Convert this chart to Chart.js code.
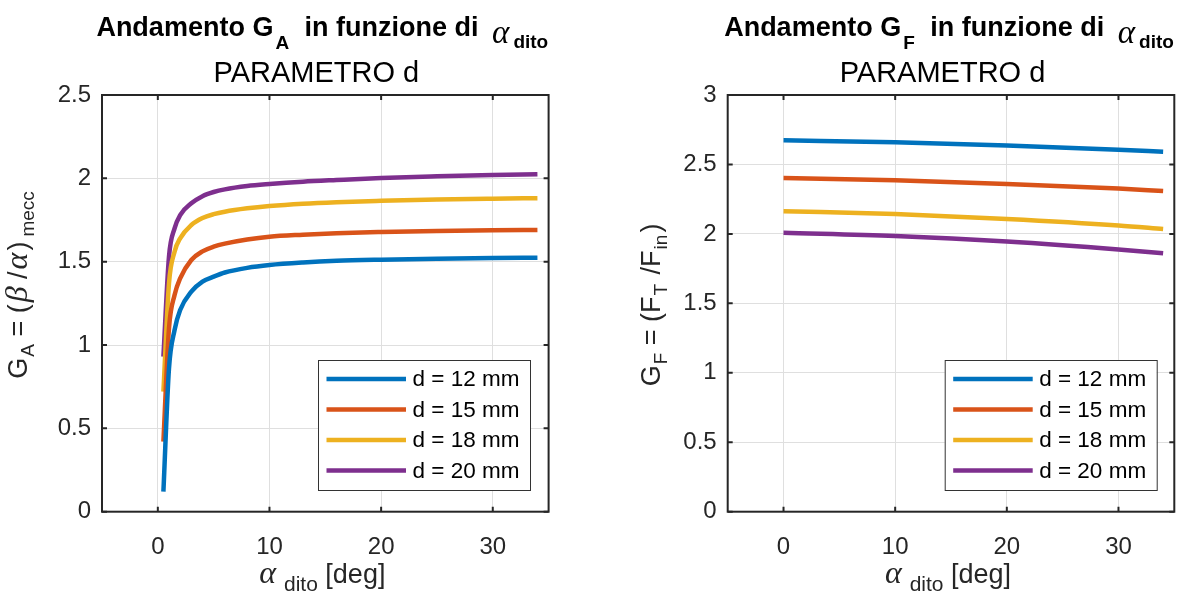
<!DOCTYPE html>
<html>
<head>
<meta charset="utf-8">
<script src="https://cdn.jsdelivr.net/npm/chart.js@4"></script>
<style>
  html, body { margin: 0; padding: 0; background: #ffffff; }
  #wrap { position: relative; width: 1184px; height: 597px; overflow: hidden; }
  .panel { position: absolute; top: 0; width: 592px; height: 597px; }
</style>
</head>
<body>
<div id="wrap">
  <div class="panel" style="left:0"><canvas id="cGA" width="592" height="597"></canvas></div>
  <div class="panel" style="left:592px"><canvas id="cGF" width="592" height="597"></canvas></div>
</div>
<script>
// ---- data -------------------------------------------------------------
const seriesLabels = ['d = 12 mm', 'd = 15 mm', 'd = 18 mm', 'd = 20 mm'];
const seriesColors = ['#0072BD', '#D95319', '#EDB120', '#7E2F8E'];

// G_A = (beta/alpha)_mecc vs alpha_dito [deg]
const alphaGA = [0.5, 1, 1.5, 2, 3, 4, 5, 6, 8, 10, 13, 16, 20, 25, 30, 34];
const gaD12 = [0.12, 0.86, 1.09, 1.21, 1.32, 1.38, 1.41, 1.435, 1.463, 1.48, 1.495, 1.505, 1.512, 1.518, 1.522, 1.524];
const gaD15 = [0.42, 1.10, 1.30, 1.40, 1.51, 1.562, 1.59, 1.608, 1.633, 1.65, 1.662, 1.671, 1.678, 1.684, 1.688, 1.690];
const gaD18 = [0.72, 1.37, 1.56, 1.64, 1.72, 1.762, 1.785, 1.80, 1.82, 1.834, 1.848, 1.857, 1.865, 1.873, 1.878, 1.881];
const gaD20 = [0.93, 1.53, 1.70, 1.78, 1.85, 1.893, 1.918, 1.934, 1.954, 1.966, 1.98, 1.99, 2.002, 2.012, 2.02, 2.025];

// G_F = F_T / F_in vs alpha_dito [deg]
const alphaGF = [0, 10, 20, 30, 34];
const gfD12 = [2.674, 2.660, 2.636, 2.606, 2.592];
const gfD15 = [2.402, 2.387, 2.360, 2.326, 2.309];
const gfD18 = [2.163, 2.143, 2.108, 2.061, 2.035];
const gfD20 = [2.009, 1.985, 1.945, 1.888, 1.860];

const xTicks = [0, 10, 20, 30];

// ---- styling ----------------------------------------------------------
const SANS = '"Liberation Sans", Arial, Helvetica, sans-serif';
const SERIF = '"Liberation Serif", "Times New Roman", serif';
const AXIS_COLOR = '#262626';
const GRID_COLOR = '#dfdfdf';

function toPoints(xs, ys) {
  return xs.map((x, i) => ({ x: x, y: ys[i] }));
}

// draws a run of text pieces (with sub/superscript offsets) centred on x
function drawRich(ctx, segs, x, y) {
  let total = 0;
  segs.forEach(s => {
    ctx.font = s.f;
    s.w = (s.pre || 0) + ctx.measureText(s.t).width + (s.gap || 0);
    total += s.w;
  });
  let cx = x - total / 2;
  ctx.textBaseline = 'alphabetic';
  ctx.textAlign = 'left';
  segs.forEach(s => {
    ctx.font = s.f;
    ctx.fillStyle = s.c || '#000000';
    ctx.fillText(s.t, cx + (s.pre || 0), y + (s.dy || 0));
    cx += s.w;
  });
}

// box, inward tick marks, legend and labels drawn on top of the plot
const decorPlugin = {
  id: 'decor',
  afterDraw(chart, args, opts) {
    const ctx = chart.ctx;
    const a = chart.chartArea;
    const xs = chart.scales.x, ys = chart.scales.y;
    ctx.save();

    // axes box
    ctx.strokeStyle = AXIS_COLOR;
    ctx.lineWidth = 2;
    ctx.strokeRect(a.left, a.top, a.right - a.left, a.bottom - a.top);

    // inward ticks on all four sides
    const tl = 5;
    ctx.beginPath();
    xs.ticks.forEach(t => {
      const px = xs.getPixelForValue(t.value);
      ctx.moveTo(px, a.bottom); ctx.lineTo(px, a.bottom - tl);
      ctx.moveTo(px, a.top); ctx.lineTo(px, a.top + tl);
    });
    ys.ticks.forEach(t => {
      const py = ys.getPixelForValue(t.value);
      ctx.moveTo(a.left, py); ctx.lineTo(a.left + tl, py);
      ctx.moveTo(a.right, py); ctx.lineTo(a.right - tl, py);
    });
    ctx.stroke();

    // legend box in the lower right corner
    const lw = 212, lh = 130;
    const bx = a.right - opts.legendRight - lw;
    const by = a.bottom - opts.legendBottom - lh;
    ctx.fillStyle = '#ffffff';
    ctx.fillRect(bx, by, lw, lh);
    ctx.strokeStyle = '#333333';
    ctx.lineWidth = 1;
    ctx.strokeRect(bx + 0.5, by + 0.5, lw, lh);
    chart.data.datasets.forEach((ds, i) => {
      const ry = by + 19 + i * 30.5;
      ctx.strokeStyle = ds.borderColor;
      ctx.lineWidth = 4.5;
      ctx.beginPath();
      ctx.moveTo(bx + 8.5, ry);
      ctx.lineTo(bx + 88, ry);
      ctx.stroke();
      ctx.fillStyle = '#000000';
      ctx.font = '22.5px ' + SANS;
      ctx.textBaseline = 'middle';
      ctx.textAlign = 'left';
      ctx.fillText(ds.label, bx + 94.5, ry + 1);
    });

    // titles
    const cx = (a.left + a.right) / 2;
    drawRich(ctx, opts.title, cx + opts.titleShift, 36);
    drawRich(ctx, [{ t: 'PARAMETRO d', f: '29px ' + SANS, c: '#000000' }], cx + opts.subShift, 82);

    // x axis label
    drawRich(ctx, opts.xLabel, cx - 3, 583);

    // y axis label (rotated)
    ctx.save();
    ctx.translate(opts.yLabelX, opts.yLabelY);
    ctx.rotate(-Math.PI / 2);
    drawRich(ctx, opts.yLabel, 0, 0);
    ctx.restore();

    ctx.restore();
  }
};

function makeDatasets(xs, ysList) {
  return ysList.map((ys, i) => ({
    label: seriesLabels[i],
    data: toPoints(xs, ys),
    borderColor: seriesColors[i],
    backgroundColor: seriesColors[i],
    borderWidth: 4.5,
    pointRadius: 0,
    fill: false,
    cubicInterpolationMode: 'monotone',
    borderCapStyle: 'butt',
    borderJoinStyle: 'round'
  }));
}

function makeOptions(yMax, padLeft, padRight, decor) {
  return {
    responsive: false,
    animation: false,
    devicePixelRatio: 1,
    layout: { padding: { left: padLeft, right: padRight, top: 95, bottom: 25.3 } },
    plugins: { legend: { display: false }, title: { display: false }, tooltip: { enabled: false }, decor: decor },
    scales: {
      x: {
        type: 'linear', min: -5, max: 35,
        afterBuildTicks: s => { s.ticks = xTicks.map(v => ({ value: v })); },
        afterFit: s => { s.height = 60; },
        grid: { color: GRID_COLOR, lineWidth: 1, drawTicks: false },
        border: { display: false },
        ticks: { color: AXIS_COLOR, font: { family: SANS, size: 24 }, padding: 21, maxRotation: 0, autoSkip: false }
      },
      y: {
        type: 'linear', min: 0, max: yMax,
        ticks: { stepSize: 0.5, color: AXIS_COLOR, font: { family: SANS, size: 24 }, padding: 11,
                 callback: v => String(Math.round(v * 10) / 10) },
        afterFit: s => { s.width = decor.yAxisWidth; },
        grid: { color: GRID_COLOR, lineWidth: 1, drawTicks: false },
        border: { display: false }
      }
    }
  };
}

const B = 'bold 27px ' + SANS, Bs = 'bold 19px ' + SANS;
const N = '27px ' + SANS, Ns = '19px ' + SANS;
const GR = 'italic 32px ' + SERIF;

function titleFor(letter) {
  return [
    { t: 'Andamento G', f: B },
    { t: letter, f: Bs, dy: 13, pre: 2, gap: 8 },
    { t: ' in funzione di ', f: B },
    { t: 'α', f: 'italic 33px ' + SERIF, dy: 7, pre: 6, gap: 4 },
    { t: 'dito', f: Bs, dy: 12 }
  ];
}

const xLabelSegs = [
  { t: 'α', f: GR, c: AXIS_COLOR, gap: 8 },
  { t: 'dito', f: '21px ' + SANS, dy: 8, c: AXIS_COLOR },
  { t: ' [deg]', f: N, c: AXIS_COLOR }
];

new Chart(document.getElementById('cGA'), {
  type: 'line',
  data: { datasets: makeDatasets(alphaGA, [gaD12, gaD15, gaD18, gaD20]) },
  plugins: [decorPlugin],
  options: makeOptions(2.5, 0, 43.4, {
    yAxisWidth: 102, legendRight: 18.6, legendBottom: 21.7,
    titleShift: -3, subShift: -9,
    title: titleFor('A'),
    xLabel: xLabelSegs,
    yLabelX: 27, yLabelY: 285,
    yLabel: [
      { t: 'G', f: N, c: AXIS_COLOR },
      { t: 'A', f: Ns, dy: 7, c: AXIS_COLOR, pre: 1 },
      { t: ' = (', f: N, c: AXIS_COLOR },
      { t: 'β', f: GR, c: AXIS_COLOR, pre: 2 },
      { t: ' /', f: N, c: AXIS_COLOR },
      { t: 'α', f: GR, c: AXIS_COLOR, pre: 2, gap: 2 },
      { t: ')', f: N, c: AXIS_COLOR, gap: 5 },
      { t: 'mecc', f: Ns, dy: 7, c: AXIS_COLOR }
    ]
  })
});

new Chart(document.getElementById('cGF'), {
  type: 'line',
  data: { datasets: makeDatasets(alphaGF, [gfD12, gfD15, gfD18, gfD20]) },
  plugins: [decorPlugin],
  options: makeOptions(3, 0, 9.7, {
    yAxisWidth: 135.7, legendRight: 17.6, legendBottom: 21.7,
    titleShift: -2, subShift: -8.5,
    title: titleFor('F'),
    xLabel: xLabelSegs,
    yLabelX: 68, yLabelY: 305,
    yLabel: [
      { t: 'G', f: N, c: AXIS_COLOR },
      { t: 'F', f: Ns, dy: 7, c: AXIS_COLOR, pre: 1 },
      { t: ' = (F', f: N, c: AXIS_COLOR },
      { t: 'T', f: Ns, dy: 7, c: AXIS_COLOR, pre: 1, gap: 2 },
      { t: ' /F', f: N, c: AXIS_COLOR },
      { t: 'in', f: Ns, dy: 7, c: AXIS_COLOR, pre: 1, gap: 2 },
      { t: ')', f: N, c: AXIS_COLOR }
    ]
  })
});
</script>
</body>
</html>
